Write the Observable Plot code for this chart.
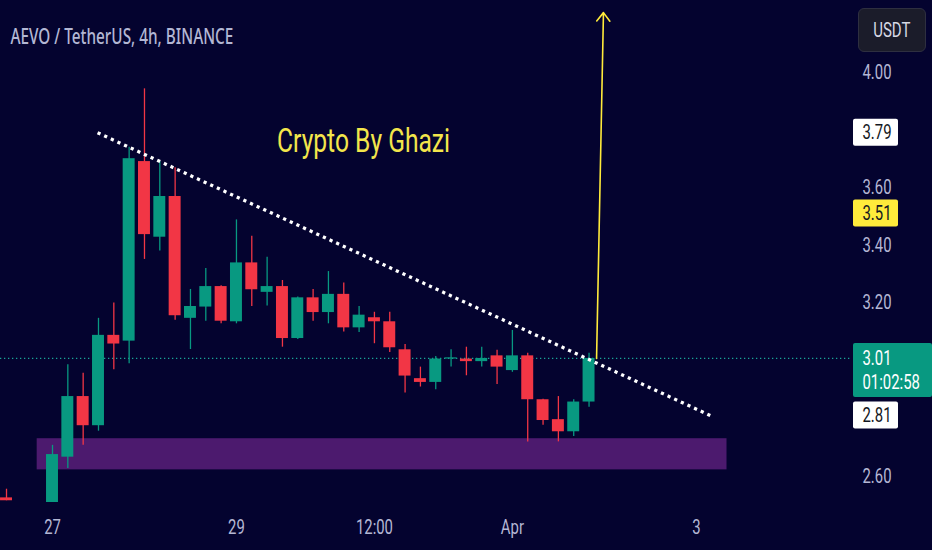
<!DOCTYPE html>
<html><head><meta charset="utf-8">
<script src="https://cdn.jsdelivr.net/npm/d3@7"></script>
<script src="https://cdn.jsdelivr.net/npm/@observablehq/plot@0.6"></script>
<style>
html,body{margin:0;padding:0;background:#04032f;}
#wrap{position:relative;width:932px;height:550px;overflow:hidden;background:#04032f;}
#usdt{position:absolute;left:858px;top:8px;width:68px;height:44px;border-radius:6px;background:#1b1c2a;border:1px solid #2e2f40;box-sizing:border-box;display:flex;align-items:center;justify-content:center;}
#usdt span{font-family:Roboto,sans-serif;font-size:20px;color:#d6d8e4;transform:scaleX(0.75);display:inline-block;}
</style></head><body>
<div id="wrap"><div id="usdt"><span>USDT</span></div></div>
<script>
// ---- data (4h candles, index 0 = Mar 27 00:00) ----
const candleIndex = [-3,0,1,2,3,4,5,6,7,8,9,10,11,12,13,14,15,16,17,18,19,20,21,22,23,24,25,26,27,28,29,30,31,32,33,34,35];
const openPrices  = [2.525,2.50,2.666,2.876,2.775,3.088,3.068,3.690,3.428,3.569,3.147,3.186,3.257,3.135,3.339,3.237,3.257,3.077,3.218,3.167,3.230,3.114,3.149,3.135,3.038,2.938,2.925,3.006,3.006,2.997,3.017,2.966,3.017,2.865,2.796,2.754,2.857];
const highPrices  = [2.555,2.707,2.986,2.957,3.147,3.200,3.740,3.942,3.690,3.669,3.247,3.320,3.260,3.488,3.431,3.359,3.278,3.221,3.247,3.309,3.269,3.188,3.168,3.168,3.056,2.978,3.015,3.038,3.047,3.047,3.036,3.105,3.026,2.867,2.876,2.865,3.026];
const lowPrices   = [2.515,2.49,2.627,2.707,2.756,2.969,2.990,3.351,3.380,3.140,3.039,3.137,3.128,3.128,3.188,3.190,3.047,3.074,3.137,3.128,3.100,3.098,3.059,3.029,2.888,2.909,2.900,2.978,2.948,2.978,2.918,2.960,2.719,2.777,2.719,2.738,2.839];
const closePrices = [2.515,2.675,2.876,2.775,3.088,3.058,3.700,3.437,3.569,3.156,3.188,3.257,3.137,3.339,3.246,3.257,3.077,3.218,3.167,3.230,3.114,3.158,3.135,3.045,2.947,2.925,3.006,3.010,2.997,3.008,2.978,3.017,2.865,2.793,2.754,2.857,3.008];

const xTickIndex  = [0,12,21,30,42];
const xTickLabels = ["27","29","12:00","Apr","3"];
const yTickValues = [4.00,3.60,3.40,3.20,2.60];

const lastPrice = 3.008;
const countdown = "01:02:58";

const trendIndex = [2.94, 42.92];
const trendPrice = [3.79, 2.81];

const zoneIndex = [-1, 44];
const zonePrice = [2.622, 2.730];

const arrowIndex = [35.49, 35.94];
const arrowPrice = [3.008, 4.206];

const noteText = "Crypto By Ghazi";
const noteIndex = 20.29;
const notePrice = 3.760;

const titleText = "AEVO / TetherUS, 4h, BINANCE";

const labelValues = [3.79, 3.51, 3.008, 2.81];
const labelTexts  = ["3.79", "3.51", "3.01", "2.81"];
const labelKinds  = ["line", "alert", "last", "line"];

// ---- build tables ----
const GREEN = "#089981", RED = "#f23645";
const candles = candleIndex.map((i, k) => {
  const o = openPrices[k], c = closePrices[k];
  let lo = Math.min(o, c), hi = Math.max(o, c);
  if (hi - lo < 0.004) { const m = (hi + lo) / 2; lo = m - 0.002; hi = m + 0.002; }
  return {i, o, h: highPrices[k], l: lowPrices[k], c, lo, hi, up: c >= o};
});
const trend = trendIndex.map((i, k) => ({i, p: trendPrice[k]}));
const zone = [{x1: zoneIndex[0], x2: zoneIndex[1], y1: zonePrice[0], y2: zonePrice[1]}];
const arrow = [{x1: arrowIndex[0], y1: arrowPrice[0], x2: arrowIndex[1], y2: arrowPrice[1]}];
const labels = labelValues.map((v, k) => ({v, t: labelTexts[k], kind: labelKinds[k]}));
const boxFill = {line: "#ffffff", alert: "#ffeb3b", last: GREEN};
const textFill = {line: "#131722", alert: "#131722", last: "#ffffff"};

const W = 932, H = 550, MR = 82, MB = 48;
const pxPerCandle = 15.33, firstX = 52;
const xDomain = [-firstX / pxPerCandle, (W - MR - firstX) / pxPerCandle];

const chart = Plot.plot({
  width: W, height: H,
  marginLeft: 0, marginRight: MR, marginTop: 0, marginBottom: MB,
  style: {background: "#04032f", color: "#b4b7d4", fontFamily: "Roboto, sans-serif", fontSize: "20px", overflow: "visible"},
  x: {domain: xDomain, axis: null},
  y: {domain: [2.509, 4.248], axis: null},
  marks: [
    Plot.rect(zone, {x1: "x1", x2: "x2", y1: "y1", y2: "y2", fill: "#4c1a6e"}),
    Plot.ruleY([lastPrice], {stroke: "#1aa596", strokeWidth: 1.2, strokeDasharray: "1.3,2.7"}),
    Plot.ruleX(candles, {x: "i", y1: "l", y2: "h", stroke: d => d.up ? GREEN : RED, strokeWidth: 1.3, clip: true}),
    Plot.rect(candles, {x1: d => d.i - 0.39, x2: d => d.i + 0.39, y1: "lo", y2: "hi", fill: d => d.up ? GREEN : RED, clip: true}),
    Plot.line(trend, {x: "i", y: "p", stroke: "#ffffff", strokeWidth: 3.3, strokeDasharray: "3.2,4.1", strokeLinecap: "butt"}),
    Plot.arrow(arrow, {x1: "x1", y1: "y1", x2: "x2", y2: "y2", stroke: "#ffeb3b", strokeWidth: 1.6, headLength: 10, headAngle: 76}),
    Plot.text([noteText], {x: noteIndex, y: notePrice, text: d => d, fill: "#f3e64b", fontSize: 33, fontFamily: "Roboto, sans-serif"}),
    Plot.text([titleText], {frameAnchor: "top-left", dx: 10, dy: 28.5, text: d => d, textAnchor: "start", fill: "#b3b7d4", fontSize: 21, fontWeight: 500, fontFamily: "'Noto Sans', sans-serif"}),
    Plot.axisY(yTickValues, {anchor: "right", tickSize: 0, tickPadding: 12, tickFormat: d => d.toFixed(2), fontSize: 20, label: null}),
    Plot.axisX(xTickIndex, {anchor: "bottom", tickSize: 0, tickPadding: 17, tickFormat: d => xTickLabels[xTickIndex.indexOf(d)], fontSize: 20, label: null}),
    Plot.text(labels, {y: "v", text: "t", frameAnchor: "right", dx: 12, textAnchor: "start", fill: d => textFill[d.kind], fontSize: 20}),
    Plot.text(labels.filter(d => d.kind === "last"), {y: "v", text: () => countdown, frameAnchor: "right", dx: 12, dy: 24, textAnchor: "start", fill: "#ffffff", fontSize: 20})
  ]
});

const wrap = document.getElementById("wrap");
wrap.insertBefore(chart, wrap.firstChild);

const allTexts = [...chart.querySelectorAll("text")];
const findText = s => allTexts.find(n => n.textContent === s);

// label boxes, positioned through the chart's own y scale
const ys = chart.scale("y");
const frameRight = W - MR;
const labelGroup = findText(labelTexts[0]).parentNode;
const timerGroup = findText(countdown).parentNode;
const boxG = d3.select(chart).append("g");
labels.forEach(d => {
  const cy = ys.apply(d.v);
  const last = d.kind === "last";
  boxG.append("rect")
    .attr("x", frameRight + 3).attr("y", last ? cy - 15 : cy - 13.5)
    .attr("width", last ? W - frameRight - 3 : 45).attr("height", last ? 54 : 27)
    .attr("rx", 2).attr("fill", boxFill[d.kind]);
});
chart.appendChild(labelGroup);
chart.appendChild(timerGroup);

// narrow the text horizontally like the reference (scale about its anchor)
function squeeze(n, f, target) {
  const b = n.getBBox();
  if (!(b.width > 0)) return;
  const k = target ? target / b.width : f;
  const anchor = getComputedStyle(n).textAnchor;
  const ax = anchor === "middle" ? b.x + b.width / 2 : anchor === "end" ? b.x + b.width : b.x;
  const t0 = n.getAttribute("transform") || "";
  n.setAttribute("transform", `${t0} translate(${ax},0) scale(${k},1) translate(${-ax},0)`.trim());
}
allTexts.forEach(n => {
  if (n.textContent === titleText) squeeze(n, 0, 223);
  else if (n.textContent === noteText) squeeze(n, 0, 173);
  else squeeze(n, 0.745);
});
</script>
</body></html>
